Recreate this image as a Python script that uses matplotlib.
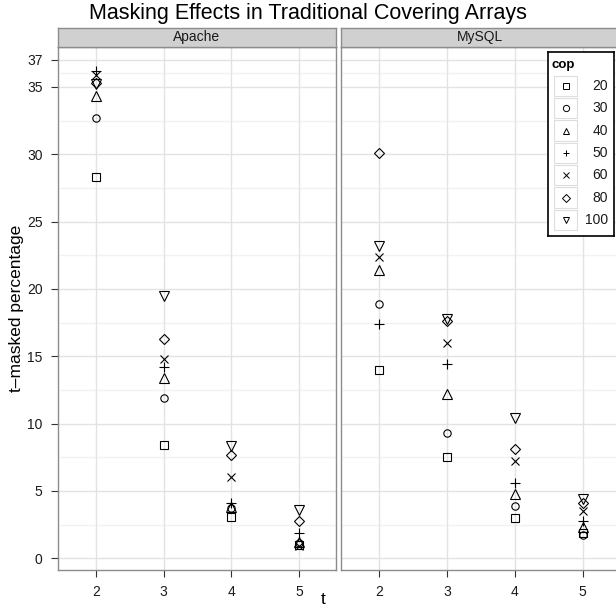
import numpy as np
import matplotlib
matplotlib.use("Agg")
import matplotlib.pyplot as plt
from matplotlib.patches import Rectangle

plt.rcParams['font.family'] = ['Liberation Sans', 'DejaVu Sans']

# data
t_values = [2, 3, 4, 5]
cop_levels = [20, 30, 40, 50, 60, 80, 100]
panels = ["Apache", "MySQL"]

apache_20 = [28.3, 8.4, 3.1, 1.0]
apache_30 = [32.7, 11.9, 3.7, 1.1]
apache_40 = [34.3, 13.4, 3.8, 1.2]
apache_50 = [36.2, 14.2, 4.1, 1.9]
apache_60 = [35.9, 14.8, 6.0, 0.9]
apache_80 = [35.3, 16.3, 7.7, 2.8]
apache_100 = [35.2, 19.5, 8.3, 3.6]

mysql_20 = [14.0, 7.5, 3.0, 1.9]
mysql_30 = [18.9, 9.3, 3.9, 1.7]
mysql_40 = [21.4, 12.2, 4.8, 2.3]
mysql_50 = [17.4, 14.4, 5.6, 2.8]
mysql_60 = [22.4, 16.0, 7.2, 3.5]
mysql_80 = [30.1, 17.6, 8.1, 4.1]
mysql_100 = [23.2, 17.8, 10.4, 4.4]

panel_data = {
    "Apache": [apache_20, apache_30, apache_40, apache_50, apache_60, apache_80, apache_100],
    "MySQL": [mysql_20, mysql_30, mysql_40, mysql_50, mysql_60, mysql_80, mysql_100],
}

y_ticks = [0, 5, 10, 15, 20, 25, 30, 35, 37]
y_minor = [2.5, 7.5, 12.5, 17.5, 22.5, 27.5, 32.5, 36]

# style
markers = ['s', 'o', '^', '+', 'x', 'D', 'v']
msizes = [5.2, 5.3, 6.5, 6.8, 5.6, 5.0, 6.5]
W, H = 616, 612
FIG_W, FIG_H = W / 100, H / 100
frame_col = '#8c8c8c'
text_col = '#1a1a1a'


def px_box(x0, y0, x1, y1):
    """pixel box (top-left origin) -> figure fraction rect"""
    return [x0 / W, 1 - y1 / H, (x1 - x0) / W, (y1 - y0) / H]


fig = plt.figure(figsize=(FIG_W, FIG_H), dpi=100)

panel_px = {"Apache": (57.7, 336.0), "MySQL": (341.0, 619.3)}
top_px, bottom_px = 47.0, 570.0
strip_top = 27.7

for i, name in enumerate(panels):
    x0, x1 = panel_px[name]
    ax = fig.add_axes(px_box(x0, top_px, x1, bottom_px))
    ax.set_xlim(1.44, 5.54)
    ax.set_ylim(-0.87, 37.96)
    for y in y_minor:
        ax.axhline(y, color='#f2f2f2', lw=1.0, zorder=0)
    for y in y_ticks:
        ax.axhline(y, color='#e3e3e3', lw=1.0, zorder=0)
    for x in t_values:
        ax.axvline(x, color='#e3e3e3', lw=1.0, zorder=0)

    for vals, m, ms in zip(panel_data[name], markers, msizes):
        ax.plot(t_values, vals, linestyle='none', marker=m, markersize=ms,
                markerfacecolor='none', markeredgecolor='black',
                markeredgewidth=0.8, zorder=3)

    ax.set_xticks(t_values)
    ax.set_xticklabels([str(t) for t in t_values], fontsize=10, color=text_col)
    ax.set_yticks(y_ticks)
    if i == 0:
        ax.set_yticklabels([str(y) for y in y_ticks], fontsize=10, color=text_col)
    else:
        ax.tick_params(axis='y', left=False, labelleft=False)
    ax.tick_params(axis='both', direction='out', length=5, width=0.8,
                   color='#333333', pad=6)
    for sp in ax.spines.values():
        sp.set_color(frame_col)
        sp.set_linewidth(1.0)

    # strip
    sax = fig.add_axes(px_box(x0, strip_top, x1, top_px))
    sax.set_facecolor('#d0d0d0')
    sax.set_xticks([])
    sax.set_yticks([])
    for sp in sax.spines.values():
        sp.set_color(frame_col)
        sp.set_linewidth(1.0)
    sax.text(0.5 if i == 0 else (480.5 - x0) / (x1 - x0), 0.5, name,
             ha='center', va='center', fontsize=10, color=text_col,
             transform=sax.transAxes)

# legend box drawn by hand
lax = fig.add_axes(px_box(547.7, 52.3, 614.0, 235.7))
lax.set_xlim(547.7, 614.0)
lax.set_ylim(235.7, 52.3)
lax.set_xticks([])
lax.set_yticks([])
for sp in lax.spines.values():
    sp.set_color('black')
    sp.set_linewidth(1.2)
lax.text(551.5, 65, "cop", fontsize=9.5, fontweight='bold',
         ha='left', va='center')
row_y = 86.0
for lvl, m in zip(cop_levels, markers):
    lax.add_patch(Rectangle((554.3, row_y - 10.2), 22.4, 20.4,
                            facecolor='none', edgecolor='#dddddd', lw=0.8))
    lax.plot([565.5], [row_y], marker=m, markersize=4.5,
             markerfacecolor='none', markeredgecolor='black',
             markeredgewidth=0.7, linestyle='none')
    lax.text(608, row_y, str(lvl), fontsize=10, ha='right', va='center',
             color=text_col)
    row_y += 22.3

fig.text(308 / W, 1 - 14 / H, "Masking Effects in Traditional Covering Arrays",
         ha='center', va='center', fontsize=15.5, color='black')
fig.text(323 / W, 1 - 600 / H, "t", ha='center', va='center', fontsize=12.5)
fig.text(17 / W, 1 - 308 / H, "t\u2013masked percentage", ha='center',
         va='center', rotation=90, fontsize=12.5)

fig.savefig("out.png", dpi=100)
